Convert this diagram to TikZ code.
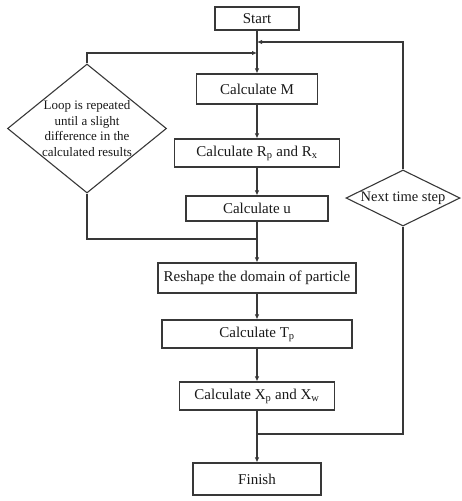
\documentclass[tikz,border=0pt]{standalone}
\usepackage{fontspec}
\setmainfont{Liberation Serif}
\usetikzlibrary{arrows.meta,shapes.geometric}

\begin{document}
\begin{tikzpicture}[
  x=1pt, y=-1pt,
  line width=1.1pt,
  every node/.style={draw=black!78, line width=1.1pt, text=black!90, inner sep=0pt},
  box/.style={rectangle, align=center, font=\fontsize{15}{18}\selectfont},
  cond/.style={diamond, align=center},
  arr/.style={draw=black!78, -{Latex[length=5pt,width=4.5pt]}},
  wire/.style={draw=black!78}
]
\useasboundingbox (0,0) rectangle (461,501);

\node[box, minimum width=84pt, minimum height=23pt] (start) at (257,18.5) {Start};
\node[box, minimum width=121pt, minimum height=30pt] (calcM) at (257,89) {Calculate M};
\node[box, minimum width=165pt, minimum height=28pt] (calcR) at (257,153) {Calculate R\textsubscript{p} and R\textsubscript{x}};
\node[box, minimum width=142pt, minimum height=25pt] (calcU) at (257,208.5) {Calculate u};
\node[box, minimum width=198pt, minimum height=30pt] (reshape) at (257,278) {Reshape the domain of particle};
\node[box, minimum width=190pt, minimum height=28pt] (calcT) at (257,334) {Calculate T\textsubscript{p}};
\node[box, minimum width=155pt, minimum height=28pt] (calcX) at (257,396) {Calculate X\textsubscript{p} and X\textsubscript{w}};
\node[box, minimum width=128pt, minimum height=32pt] (finish) at (257,479) {Finish};

\node[cond, aspect=1.23, minimum width=159pt, minimum height=129pt,
  font=\fontsize{13}{15.5}\selectfont] (loopdia) at (87,128.5)
  {Loop is repeated\\until a slight\\difference in the\\calculated results};
\node[cond, aspect=2.05, minimum width=114pt, minimum height=56pt,
  font=\fontsize{14.5}{17}\selectfont] (nextdia) at (403,198) {Next time step};

% junctions on the main line
\coordinate (mr) at (257,42);
\coordinate (ml) at (257,53);
\coordinate (jl) at (257,239);
\coordinate (jr) at (257,434);

\draw[arr] (start) -- (calcM);
\draw[arr] (calcM) -- (calcR);
\draw[arr] (calcR) -- (calcU);
\draw[arr] (calcU) -- (reshape);
\draw[arr] (reshape) -- (calcT);
\draw[arr] (calcT) -- (calcX);
\draw[arr] (calcX) -- (finish);

% inner loop
\draw[wire] (jl) -| (loopdia.south);
\draw[arr] (loopdia.north) |- (ml);

% time loop
\draw[wire] (jr) -| (nextdia.south);
\draw[arr] (nextdia.north) |- (mr);
\end{tikzpicture}
\end{document}
